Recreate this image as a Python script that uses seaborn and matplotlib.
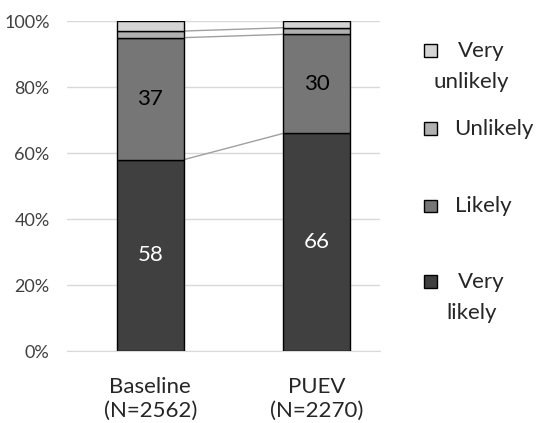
import numpy as np
import pandas as pd
import matplotlib.pyplot as plt
from matplotlib.patches import Rectangle

import seaborn as sns
sns.set_style("white")
plt.rcParams["font.family"] = ["Lato", "DejaVu Sans"]

groups = ["Baseline\n(N=2562)", "PUEV\n(N=2270)"]
levels = ["Very likely", "Likely", "Unlikely", "Very unlikely"]
legend_labels = ["Very\nlikely", "Likely", "Unlikely", "Very\nunlikely"]
very_likely = [58, 66]
likely = [37, 30]
unlikely = [2, 2]
very_unlikely = [3, 2]
colors = ["#404040", "#767676", "#b0b0b0", "#d4d4d4"]

df = pd.DataFrame({"group": groups, "Very likely": very_likely, "Likely": likely,
                   "Unlikely": unlikely, "Very unlikely": very_unlikely})

fig = plt.figure(figsize=(5.38, 4.23), dpi=100)
ax = fig.add_axes([0.1245, 0.170, 0.582, 0.780])

bottom = np.zeros(len(groups))
width = 0.4
for lev, col in zip(levels, colors):
    sns.barplot(x="group", y=lev, data=df, color=col, bottom=bottom, width=width,
                edgecolor="black", linewidth=1.0, saturation=1, ax=ax, zorder=3)
    bottom = bottom + df[lev].values

# connector lines between the stacks
cum = df[levels].cumsum(axis=1).values
for k in range(3):
    ax.plot([0 + width / 2, 1 - width / 2], [cum[0, k], cum[1, k]],
            color="#a0a0a0", linewidth=1.0, zorder=2)

# segment labels
for i in range(len(groups)):
    ax.text(i, very_likely[i] / 2, str(very_likely[i]), ha="center", va="center",
            color="white", fontsize=16, zorder=4)
    ax.text(i, very_likely[i] + likely[i] / 2, str(likely[i]), ha="center", va="center",
            color="black", fontsize=16, zorder=4)

ax.set_ylim(0, 100)
ax.set_xlim(-0.5, 1.38)
ax.set_yticks(range(0, 101, 20))
ax.set_yticklabels([f"{v}%" for v in range(0, 101, 20)], fontsize=13, color="#404040")
ax.tick_params(axis="x", labelsize=16, length=0, pad=19)
ax.tick_params(axis="y", length=0, pad=12.5)
ax.set_xlabel("")
ax.set_ylabel("")
ax.grid(axis="y", color="#d9d9d9", linewidth=1.0, zorder=0)
for s in ["left", "right", "top"]:
    ax.spines[s].set_visible(False)
ax.spines["bottom"].set_color("#d9d9d9")

# legend drawn by hand, stacked top to bottom
leg_y = [0.880, 0.695, 0.512, 0.333]
for lab, col, y in zip(legend_labels[::-1], colors[::-1], leg_y):
    fig.patches.append(Rectangle((0.789, y - 0.014), 0.024, 0.030, transform=fig.transFigure,
                                 facecolor=col, edgecolor="black", linewidth=1.0))
    lines = lab.split("\n")
    if len(lines) == 1:
        fig.text(0.845, y, lab, ha="left", va="center", fontsize=16)
    else:
        fig.text(0.851, y, lines[0], ha="left", va="center", fontsize=16)
        fig.text(0.876, y - 0.074, lines[1], ha="center", va="center", fontsize=16)

fig.savefig("out.png", dpi=100)
